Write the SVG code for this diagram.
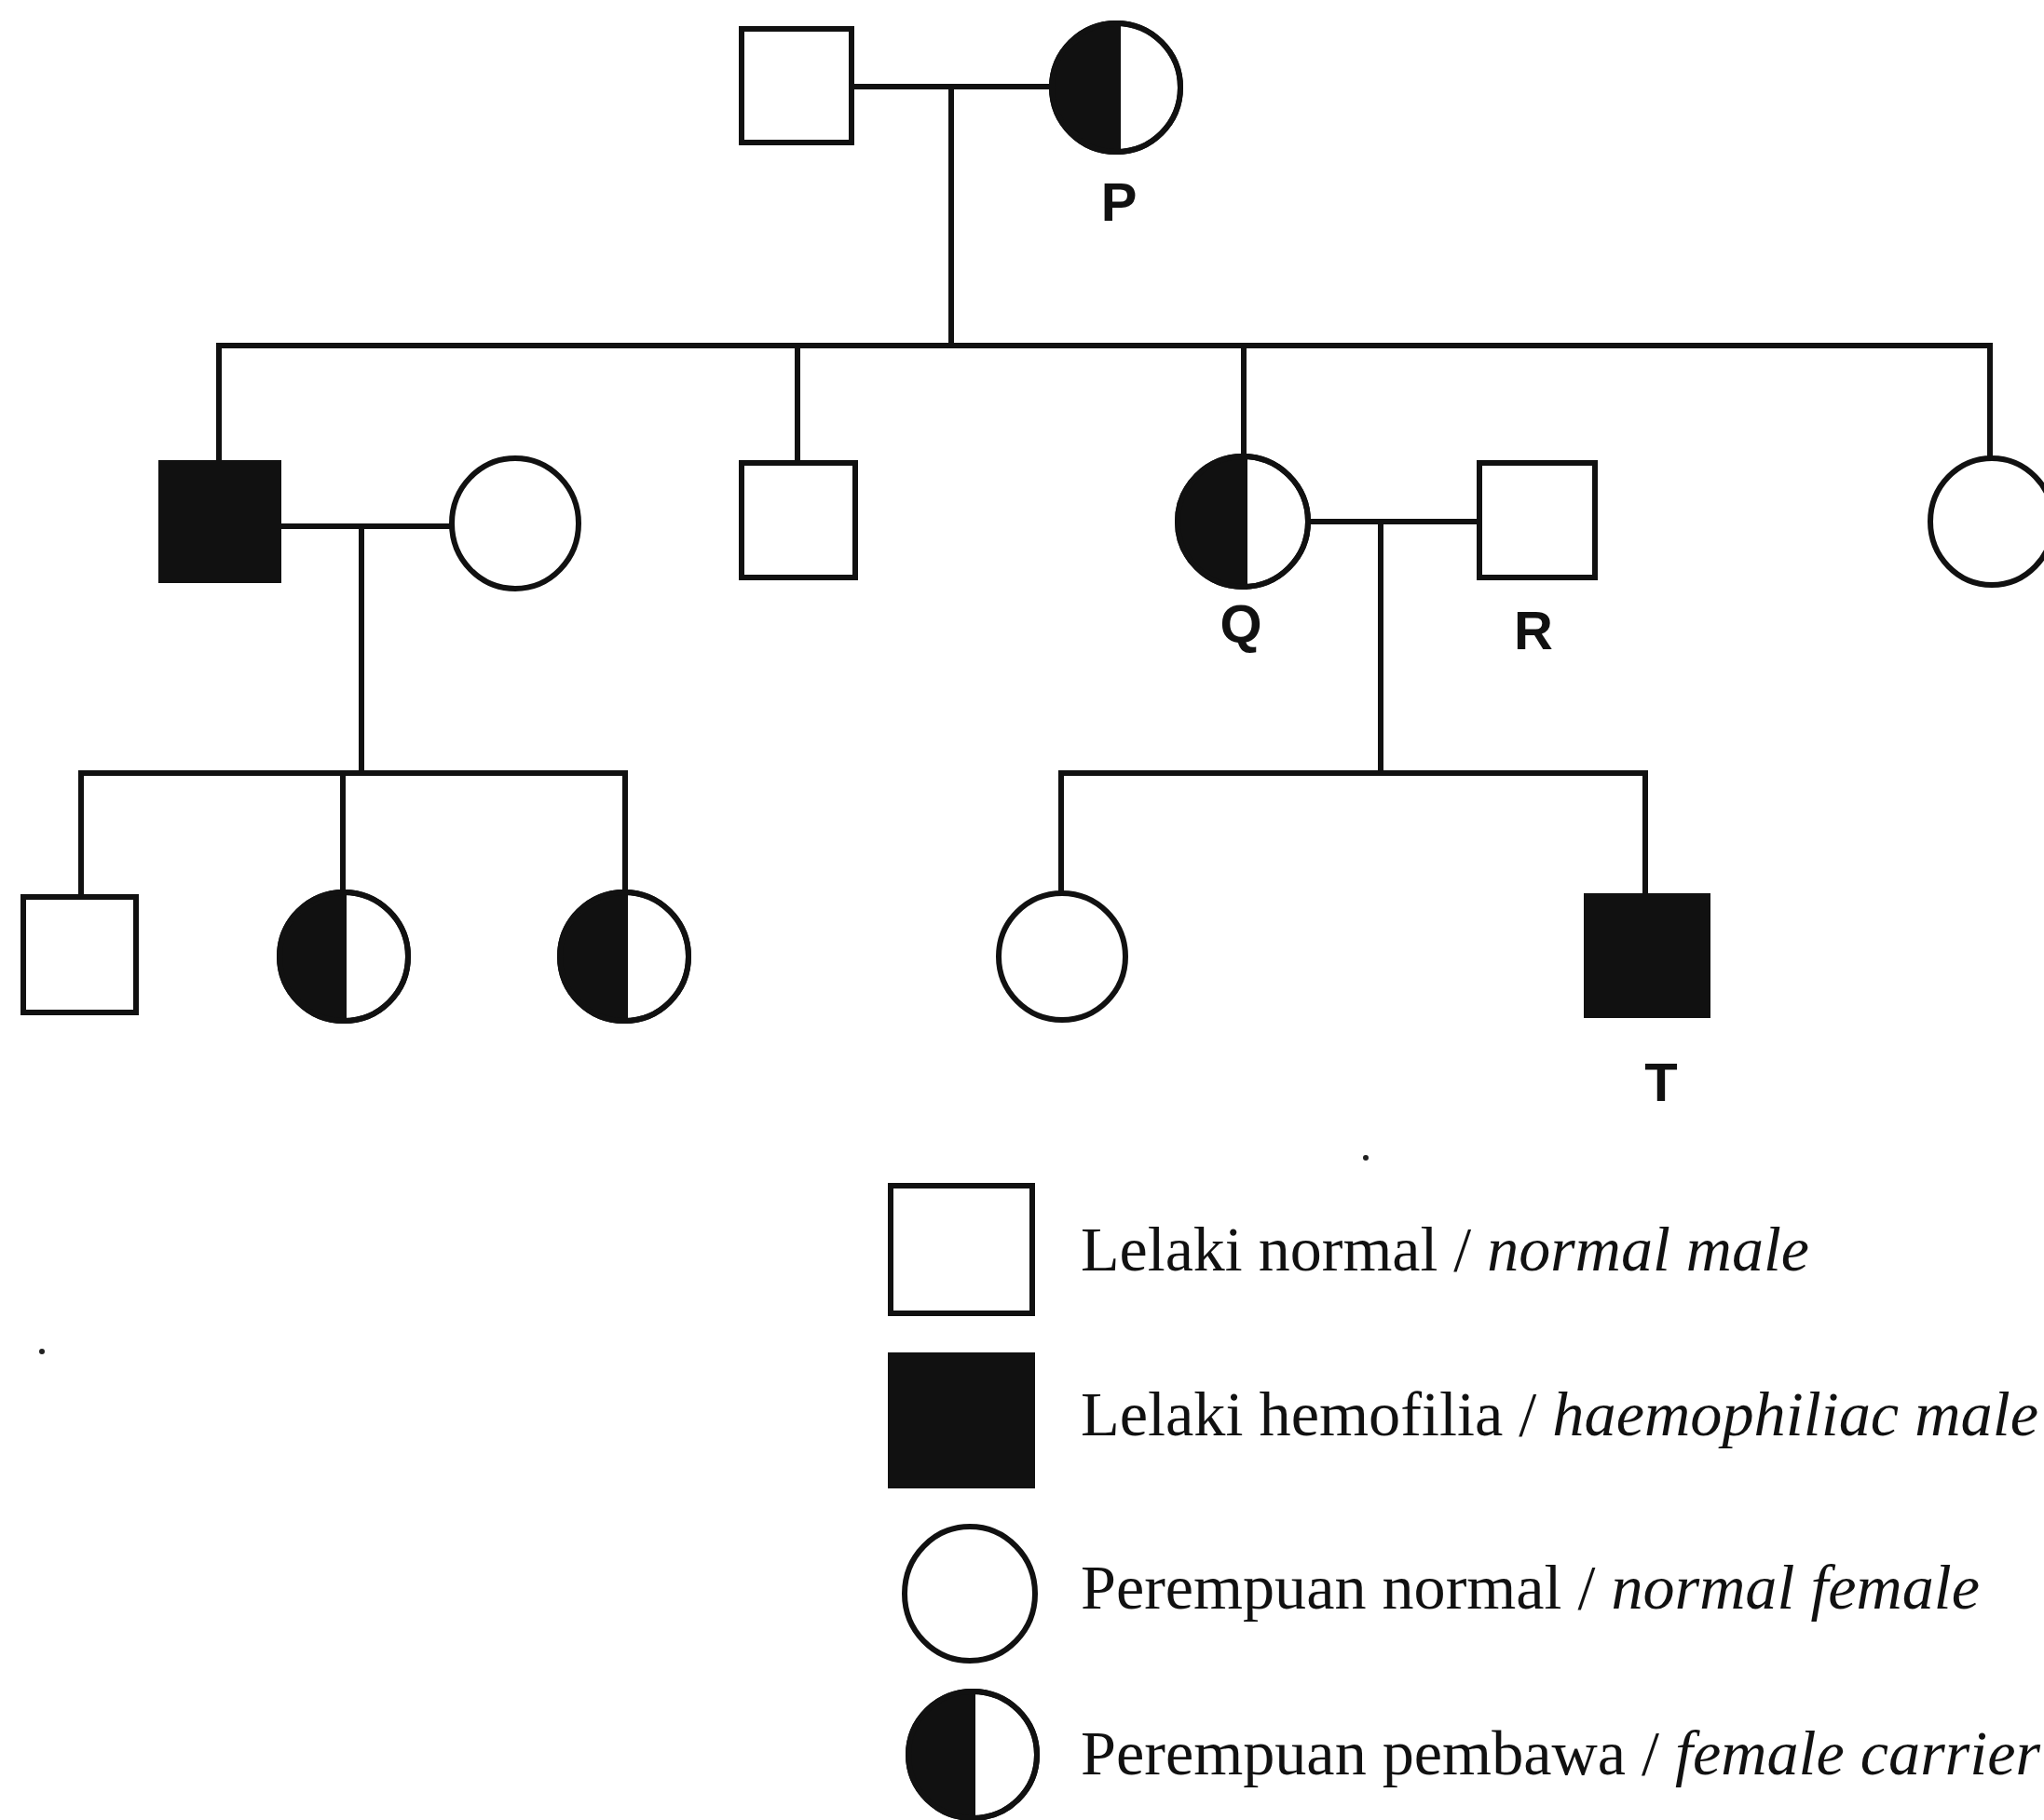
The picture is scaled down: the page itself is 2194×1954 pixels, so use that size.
<svg xmlns="http://www.w3.org/2000/svg" width="2194" height="1954" viewBox="0 0 2194 1954">
<defs>
<style>
.ln{stroke:#111;stroke-width:6;fill:none;stroke-linecap:square}
.sym{stroke:#111;stroke-width:6;fill:#fff}
.aff{stroke:#111;stroke-width:6;fill:#111}
.half{fill:#111;stroke:none}
.lbl{font-family:"Liberation Sans",Arial,sans-serif;font-weight:bold;font-size:58px;fill:#111;text-anchor:middle}
.leg{font-family:"Liberation Serif","Times New Roman",serif;font-size:68px;fill:#111}
.it{font-style:italic}
</style>
</defs>
<rect width="2194" height="1954" fill="#fff"/>
<g id="connectors">
<path class="ln" d="M914,93 H1129"/>
<path class="ln" d="M1021,93 V371"/>
<path class="ln" d="M235,371 H2136"/>
<path class="ln" d="M235,371 V497"/>
<path class="ln" d="M856,371 V497"/>
<path class="ln" d="M1335,371 V490"/>
<path class="ln" d="M2136,371 V492"/>
<path class="ln" d="M299,565 H485"/>
<path class="ln" d="M388,565 V830"/>
<path class="ln" d="M87,830 H671"/>
<path class="ln" d="M87,830 V963"/>
<path class="ln" d="M368,830 V958"/>
<path class="ln" d="M671,830 V958"/>
<path class="ln" d="M1404,560 H1588"/>
<path class="ln" d="M1482,560 V830"/>
<path class="ln" d="M1139,830 H1766"/>
<path class="ln" d="M1139,830 V959"/>
<path class="ln" d="M1766,830 V962"/>
</g>
<g id="gen1-male"><rect class="sym" x="796" y="31" width="118" height="122"/></g>
<g id="P">
<ellipse class="sym" cx="1198" cy="94" rx="69" ry="69"/>
<path class="half" d="M1200,25 A69,69 0 0 0 1200,163 Z"/>
<ellipse class="ln" cx="1198" cy="94" rx="69" ry="69"/>
<path class="ln" d="M1200,25 V163"/>
<text class="lbl" x="1201" y="237">P</text>
</g>
<g id="gen2-affected-male"><rect class="aff" x="173" y="497" width="126" height="126"/></g>
<g id="gen2-wife"><ellipse class="sym" cx="553" cy="562" rx="68" ry="70"/></g>
<g id="gen2-male"><rect class="sym" x="796" y="497" width="122" height="123"/></g>
<g id="Q">
<ellipse class="sym" cx="1334" cy="560" rx="70" ry="70"/>
<path class="half" d="M1336,490 A70,70 0 0 0 1336,630 Z"/>
<ellipse class="ln" cx="1334" cy="560" rx="70" ry="70"/>
<path class="ln" d="M1336,490 V630"/>
<text class="lbl" x="1332" y="690">Q</text>
</g>
<g id="R">
<rect class="sym" x="1588" y="497" width="124" height="123"/>
<text class="lbl" x="1646" y="697">R</text>
</g>
<g id="gen2-female-right"><ellipse class="sym" cx="2138" cy="560" rx="66" ry="68"/></g>
<g id="gen3-male"><rect class="sym" x="25" y="963" width="121" height="124"/></g>
<g id="gen3-carrier-1">
<ellipse class="sym" cx="369" cy="1027" rx="69" ry="69"/>
<path class="half" d="M369,958 A69,69 0 0 0 369,1096 Z"/>
<ellipse class="ln" cx="369" cy="1027" rx="69" ry="69"/>
<path class="ln" d="M369,958 V1096"/>
</g>
<g id="gen3-carrier-2">
<ellipse class="sym" cx="670" cy="1027" rx="69" ry="69"/>
<path class="half" d="M671,958 A69,69 0 0 0 671,1096 Z"/>
<ellipse class="ln" cx="670" cy="1027" rx="69" ry="69"/>
<path class="ln" d="M671,958 V1096"/>
</g>
<g id="gen3-female"><ellipse class="sym" cx="1140" cy="1027" rx="68" ry="68"/></g>
<g id="T">
<rect class="aff" x="1703" y="962" width="130" height="128"/>
<text class="lbl" x="1783" y="1182">T</text>
</g>
<g id="legend">
<rect class="sym" x="956" y="1273" width="152" height="137"/>
<text class="leg" x="1160" y="1364" textLength="782" lengthAdjust="spacingAndGlyphs">Lelaki normal / <tspan class="it">normal male</tspan></text>
<rect class="aff" x="956" y="1455" width="152" height="140"/>
<text class="leg" x="1160" y="1541" textLength="1028" lengthAdjust="spacingAndGlyphs">Lelaki hemofilia / <tspan class="it">haemophiliac male</tspan></text>
<ellipse class="sym" cx="1041" cy="1711" rx="70" ry="72"/>
<text class="leg" x="1160" y="1727" textLength="965" lengthAdjust="spacingAndGlyphs">Perempuan normal / <tspan class="it">normal female</tspan></text>
<ellipse class="sym" cx="1044" cy="1884" rx="69" ry="68"/>
<path class="half" d="M1044,1816 A69,68 0 0 0 1044,1952 Z"/>
<ellipse class="ln" cx="1044" cy="1884" rx="69" ry="68"/>
<path class="ln" d="M1044,1816 V1952"/>
<text class="leg" x="1160" y="1905" textLength="1030" lengthAdjust="spacingAndGlyphs">Perempuan pembawa / <tspan class="it">female carrier</tspan></text>
</g>
<circle cx="1466" cy="1243" r="3" fill="#222"/>
<circle cx="45" cy="1451" r="3" fill="#222"/>
</svg>
